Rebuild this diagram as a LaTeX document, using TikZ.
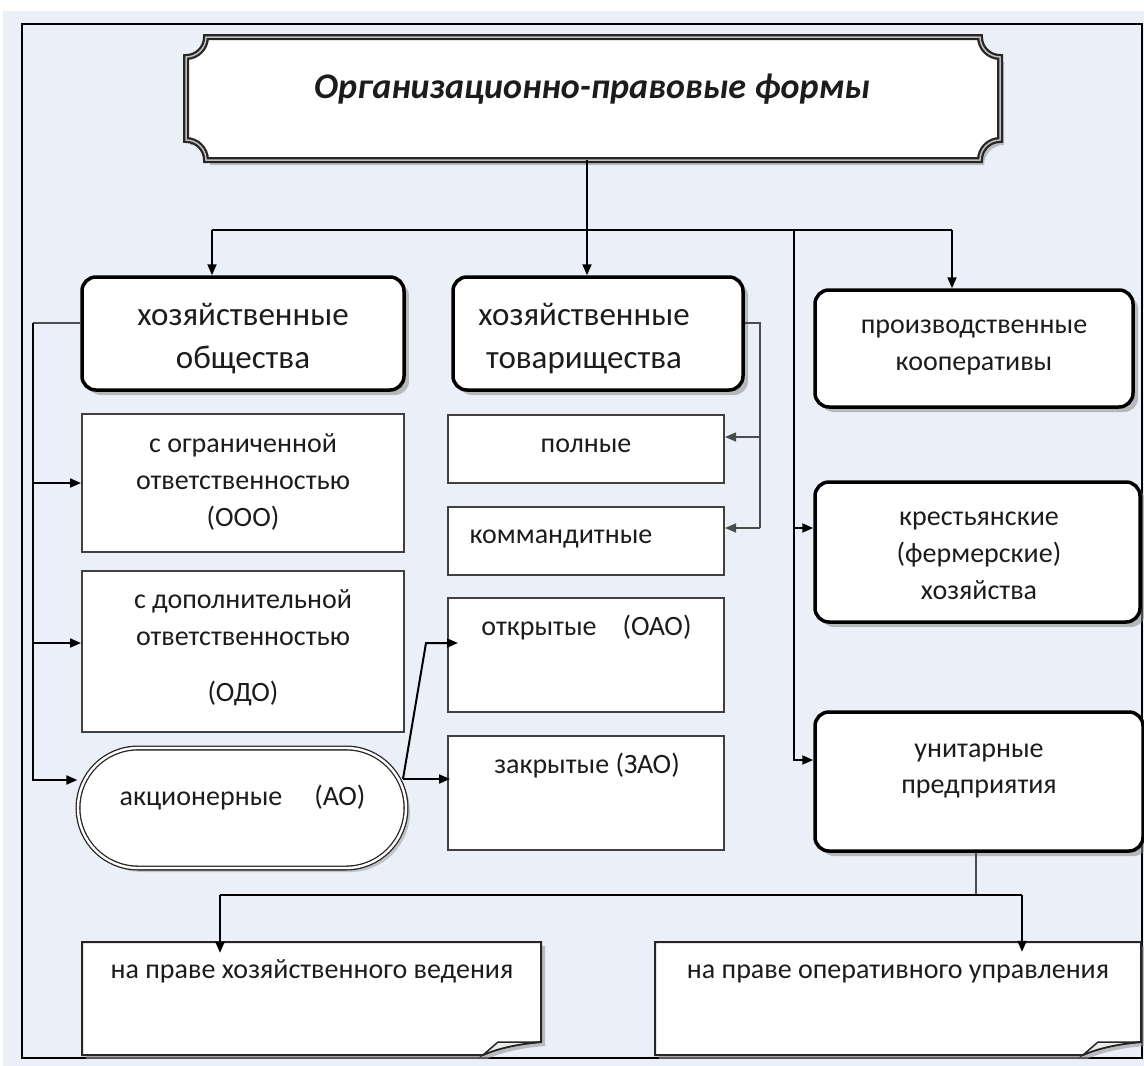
\documentclass[tikz,border=0pt]{standalone}
\usepackage{fontspec}
\setmainfont{Carlito}
\usetikzlibrary{arrows.meta,shadows,calc}
\definecolor{bgblue}{RGB}{235,240,248}
\definecolor{ink}{RGB}{28,28,28}
\newcommand\fsub{\fontsize{28}{37}\selectfont}
\newcommand\fmain{\fontsize{33}{43}\selectfont}
\newcommand\ml[1]{\begin{tabular}[t]{@{}c@{}}#1\end{tabular}}
% plaque with concave corners: x0 y0 x1 y1 r
\newcommand\plaquepath[5]{(#1+#5,#2) -- (#3-#5,#2) .. controls (#3-#5,#2+0.552*#5) and (#3-0.552*#5,#2+#5) .. (#3,#2+#5) -- (#3,#4-#5) .. controls (#3-0.552*#5,#4-#5) and (#3-#5,#4-0.552*#5) .. (#3-#5,#4) -- (#1+#5,#4) .. controls (#1+#5,#4-0.552*#5) and (#1+0.552*#5,#4-#5) .. (#1,#4-#5) -- (#1,#2+#5) .. controls (#1+0.552*#5,#2+#5) and (#1+#5,#2+0.552*#5) .. (#1+#5,#2) -- cycle}
% page with curled corner: x0 y0 x1 y1
\newcommand\curlpath[4]{(#1,#2) -- (#3,#2) -- (#3,#4-13) .. controls (#3-25,#4-11) and (#3-45,#4-6) .. (#3-58,#4) -- (#1,#4) -- cycle}
\newcommand\flappath[4]{(#3-58,#4) -- (#3-43,#4-13) -- (#3,#4-13) .. controls (#3-25,#4-11) and (#3-45,#4-6) .. (#3-58,#4) -- cycle}
\begin{document}
\begin{tikzpicture}[x=1pt,y=-1pt,
  mainbox/.style={draw=black, line width=3.5pt, rounded corners=14pt, fill=white, inner sep=0pt,
    drop shadow={shadow xshift=5pt, shadow yshift=-5pt, fill=black!45, opacity=0.55}},
  subbox/.style={draw=black!75, line width=2pt, fill=white, inner sep=0pt},
  aobox/.style={draw=black!85, line width=1.3pt, double=white, double distance=2.4pt, rounded corners=60pt, fill=white, inner sep=0pt,
    drop shadow={shadow xshift=4pt, shadow yshift=-4pt, fill=black!40, opacity=0.5}},
  ghost/.style={inner sep=0pt, draw=none},
  lbl/.style={anchor=base, inner sep=0pt, text=ink},
  conn/.style={line width=2pt, draw=black},
  arr/.style={conn, -{Triangle[length=11pt,width=9pt]}},
  thinline/.style={line width=1.5pt, draw=black!70},
  thinarr/.style={thinline, -{Triangle[length=11pt,width=9pt]}}
]
\useasboundingbox (0,0) rectangle (1144,1066);
\fill[white] (0,0) rectangle (1144,1066);
\fill[bgblue] (3,11) rectangle (1144,1066);
\draw[line width=2.5pt] (22,24) rectangle (1142,1058);

% title plaque
\node[ghost, minimum width=814pt, minimum height=123pt] (title) at (593,98.5) {};
\fill[black!40, opacity=0.6] \plaquepath{190}{42}{1004}{165}{20};
\draw[line width=6pt, draw=black!85, fill=white] \plaquepath{186}{37}{1000}{160}{20};
\draw[line width=1.5pt, draw=black!25] \plaquepath{186}{37}{1000}{160}{20};
\node[lbl, font=\fontsize{36}{40}\selectfont\bfseries\itshape] (tt) at (592,98) {Организационно-правовые формы};

% main boxes
\node[mainbox, minimum width=322pt, minimum height=113pt] (hs) at (243,333.5) {};
\node[lbl, font=\fmain] (hst) at (243,325) {\ml{хозяйственные\\общества}};
\node[mainbox, minimum width=290pt, minimum height=113pt] (ht) at (598,333.5) {};
\node[lbl, font=\fmain] (htt) at (584,325) {\ml{хозяйственные\\товарищества}};
\node[mainbox, minimum width=318pt, minimum height=117pt] (pk) at (974,348.5) {};
\node[lbl, font=\fsub] (pkt) at (974,333) {\ml{производственные\\кооперативы}};
\node[mainbox, minimum width=325pt, minimum height=140pt] (kf) at (977.5,552) {};
\node[lbl, font=\fsub] (kft) at (979,525) {\ml{крестьянские\\(фермерские)\\хозяйства}};
\node[mainbox, minimum width=328pt, minimum height=139pt] (up) at (979,781.5) {};
\node[lbl, font=\fontsize{28}{36}\selectfont] (upt) at (979,757) {\ml{унитарные\\предприятия}};

% sub boxes left
\node[subbox, minimum width=322pt, minimum height=138pt] (ooo) at (243,483) {};
\node[lbl, font=\fsub] (ooot) at (243,452) {\ml{с ограниченной\\ответственностью\\(ООО)}};
\node[subbox, minimum width=322pt, minimum height=161pt] (odo) at (243,651.5) {};
\node[lbl, font=\fsub] (odot) at (243,608) {\ml{с дополнительной\\ответственностью\\[19pt](ОДО)}};
\node[aobox, minimum width=328pt, minimum height=120pt] (ao) at (242,808) {};
\node[lbl, font=\fsub] (aot) at (242.5,805) {акционерные\hspace{32pt}(АО)};

% sub boxes middle
\node[subbox, minimum width=276pt, minimum height=68pt] (pol) at (586,449) {};
\node[lbl, font=\fsub] (polt) at (586,452) {полные};
\node[subbox, minimum width=276pt, minimum height=68pt] (kom) at (586,541) {};
\node[lbl, font=\fsub] (komt) at (561,543) {коммандитные};
\node[subbox, minimum width=276pt, minimum height=114pt] (oao) at (586,655) {};
\node[lbl, font=\fsub] (oaot) at (586.5,635) {открытые\hspace{26pt}(ОАО)};
\node[subbox, minimum width=276pt, minimum height=114pt] (zao) at (586,793) {};
\node[lbl, font=\fsub] (zaot) at (587,773) {закрытые (ЗАО)};

% bottom pages
\node[ghost, minimum width=459pt, minimum height=113pt] (hv) at (311.5,998.5) {};
\node[ghost, minimum width=486pt, minimum height=113pt] (ou) at (898,998.5) {};
\fill[black!40, opacity=0.6] \curlpath{86}{946}{545}{1059};
\fill[black!40, opacity=0.6] \curlpath{659}{946}{1145}{1059};
\draw[line width=2pt, draw=black!85, fill=white] \curlpath{82}{942}{541}{1055};
\draw[line width=2pt, draw=black!85, fill=white] \curlpath{655}{942}{1141}{1055};
\draw[line width=1.5pt, draw=black!85, fill=black!8] \flappath{82}{942}{541}{1055};
\draw[line width=1.5pt, draw=black!85, fill=black!8] \flappath{655}{942}{1141}{1055};
\node[lbl, font=\fsub] (hvt) at (312,978) {на праве хозяйственного ведения};
\node[lbl, font=\fsub] (out) at (898,978) {на праве оперативного управления};

% connectors from title
\coordinate (b0) at (587,230);
\coordinate (bl) at (212,230);
\coordinate (br) at (952,230);
\coordinate (rv) at (794,230);
\draw[arr] (title.south -| b0) -- (b0 |- ht.north);
\draw[conn] (bl) -- (br);
\draw[arr] (bl) -- (bl |- hs.north);
\draw[arr] (br) -- (br |- pk.north);
\coordinate (rk) at (794,528);
\coordinate (ru) at (794,760);
\draw[arr] (rv) -- (ru) -- (ru -| up.west);
\draw[arr] (rk) -- (rk -| kf.west);

% left bus
\coordinate (lh) at (33,323);
\coordinate (lo) at (33,483);
\coordinate (ld) at (33,643);
\coordinate (la) at (33,780);
\draw[thinline] (hs.west |- lh) -- (lh);
\draw[arr] (lh) -- (la) -- (la -| ao.west);
\draw[arr] (lo) -- (lo -| ooo.west);
\draw[arr] (ld) -- (ld -| odo.west);

% AO branches
\coordinate (a1) at (403,779);
\coordinate (a2) at (426,643);
\draw[arr, shorten >=-11pt] (a1) -- (a2) -- (a2 -| oao.west);
\draw[arr, shorten >=-3pt] (a1) -- (a1 -| zao.west);

% partnerships
\coordinate (tr) at (760,323);
\coordinate (tp) at (760,437);
\coordinate (tk) at (760,528);
\draw[thinline] (ht.east |- tr) -- (tr) -- (tk);
\draw[thinarr] (tp) -- (tp -| pol.east);
\draw[thinarr] (tk) -- (tk -| kom.east);

% unitary
\coordinate (u0) at (976,895);
\coordinate (ul) at (220,895);
\coordinate (ur) at (1022,895);
\draw[thinline] (up.south -| u0) -- (u0);
\draw[conn] (ul) -- (ur);
\draw[arr, shorten >=-11pt] (ul) -- (ul |- hv.north);
\draw[arr, shorten >=-10pt] (ur) -- (ur |- ou.north);
\end{tikzpicture}
\end{document}
